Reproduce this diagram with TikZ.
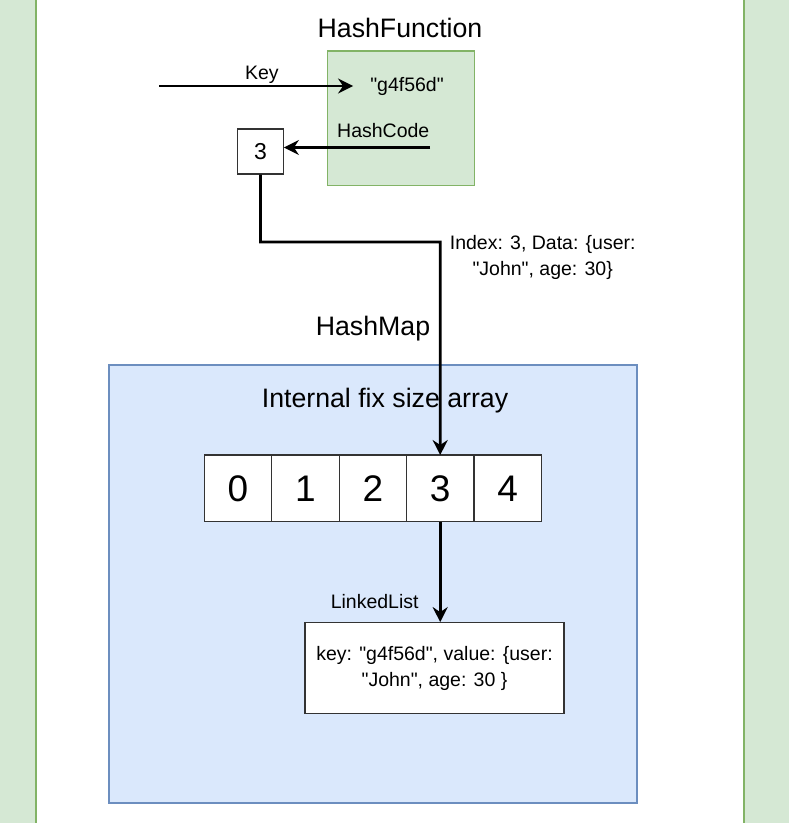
\documentclass[tikz,border=0pt]{standalone}
\usepackage{fontspec}
\setmainfont{Liberation Sans}
\usetikzlibrary{positioning,arrows.meta}

\definecolor{fngreen}{HTML}{D5E8D4}
\definecolor{fngreenline}{HTML}{82B366}
\definecolor{mapblue}{HTML}{DAE8FC}
\definecolor{mapblueline}{HTML}{6C8EBF}

\newcommand{\sq}{\textquotedbl}

\tikzset{
	link/.style={line width=2.6pt, -{Stealth[length=15pt,width=15pt,inset=5pt]}},
	cellbox/.style={rectangle, draw=black!80, fill=white, line width=1.2pt, outer sep=0pt, inner sep=0pt, minimum width=67.4pt, minimum height=66.5pt, font=\fontsize{37}{42}\selectfont},
	lbl/.style={font=\fontsize{19.5}{26}\selectfont},
	title/.style={font=\fontsize{26.7}{32}\selectfont},
}

\begin{document}
\begin{tikzpicture}[x=1pt, y=-1pt]

		\useasboundingbox (0,0) rectangle (789,823);
		\begin{scope}
			\clip (0,0) rectangle (789,823);
			\filldraw[fill=fngreen, draw=fngreenline, line width=1.2pt] (-10,-10) rectangle (36,833);
			\filldraw[fill=fngreen, draw=fngreenline, line width=1.2pt] (744,-10) rectangle (800,833);
		\end{scope}

		% hash function part
		\node(hash-title)[title] at (400,28) {HashFunction};
		\node(hash-fn)[rectangle, draw=fngreenline, fill=fngreen, line width=1.2pt, minimum width=146.6pt, minimum height=134.7pt] at (401,118.3) {};
		\node(key-val)[lbl, inner xsep=17pt] at (407,86) {\sq g4f56d\sq};
		\node(slot)[rectangle, draw=black!80, fill=white, line width=1.2pt, minimum width=45.6pt, minimum height=45pt, font=\fontsize{23}{26}\selectfont] at (260.5,151.5) {3};

		\coordinate(key-src) at (159,86);
		\coordinate(hash-out) at (430,147.5);
		\coordinate(turn) at (440.2,242);

		% hash map part
		\node(map)[rectangle, draw=mapblueline, fill=mapblue, line width=1.2pt, minimum width=528pt, minimum height=438pt] at (373,584) {};
		\node(map-title)[title] at (373,329) {HashMap};
		\node(array-title)[title] at (385,401) {Internal fix size array};

		\node(cell-0)[cellbox] at (238,488.3) {0};
		\node(cell-1)[cellbox, right=0pt of cell-0] {1};
		\node(cell-2)[cellbox, right=0pt of cell-1] {2};
		\node(cell-3)[cellbox, right=0pt of cell-2] {3};
		\node(cell-4)[cellbox, right=0pt of cell-3] {4};

		\node(list)[rectangle, draw=black!80, fill=white, line width=1.2pt, minimum width=259pt, minimum height=90.6pt, lbl, align=center] at (434.5,668) {key: \sq g4f56d\sq, value: \{user:\\\sq John\sq, age: 30 \}};

		\draw[link] (key-src) --node[lbl, above, inner sep=1pt, pos=0.53]{Key} (key-src -| key-val.west);
		\draw[link] (hash-out) --node[lbl, above=5pt, pos=0.32]{HashCode} (hash-out -| slot.east);
		\draw[link] (slot.south) |- (turn) node[lbl, align=center, anchor=west, xshift=5pt, yshift=-15pt]{Index: 3, Data: \{user:\\\sq John\sq, age: 30\}} -- (cell-3.north);
		\draw[link] (cell-3.south) --node[lbl, left=17pt, pos=0.8]{LinkedList} (cell-3.south |- list.north);
	\end{tikzpicture}
\end{document}
